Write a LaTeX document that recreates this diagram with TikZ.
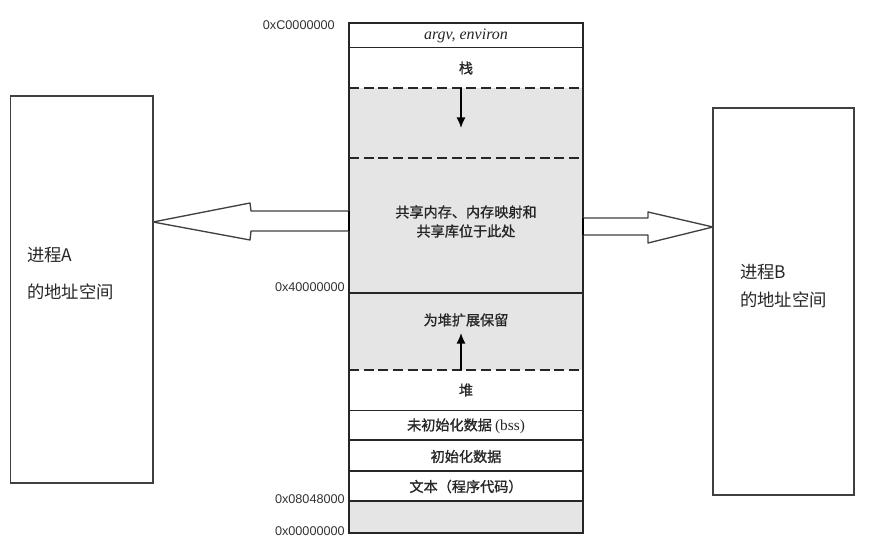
\documentclass[tikz,border=0pt]{standalone}
\usepackage{fontspec}
\usetikzlibrary{arrows.meta}
\setmainfont{Liberation Serif}
\newfontfamily\cjk{Noto Sans CJK SC}
\newfontfamily\cjkb[FakeBold=1.2]{Noto Sans CJK SC}
\newfontfamily\addrfont{Liberation Sans}
\begin{document}
\begin{tikzpicture}[x=0.75pt,y=-0.75pt,
  segline/.style={line width=1.1pt,draw=black!85},
  dashln/.style={line width=1.3pt,draw=black!85,dash pattern=on 7.5pt off 3.5pt},
  boxframe/.style={line width=1.1pt,draw=black!75},
  addr/.style={font=\addrfont\fontsize{9.5}{11}\selectfont,anchor=east,inner sep=0pt,text=black!80},
  segtxt/.style={font=\cjkb\fontsize{10.6}{14.3}\selectfont,align=center,inner sep=0pt,text=black!85},
  boxtxt/.style={font=\cjk\fontsize{13}{15}\selectfont,anchor=west,inner sep=0pt,text=black!85},
  hollowarrow/.style={line width=1pt,draw=black!75,fill=white,line join=round},
  growarrow/.style={line width=1.2pt,-{Latex[length=8pt,width=7pt]}}
]
\useasboundingbox (0,0) rectangle (875,541);
% gray regions
\fill[black!10] (349,87.7) rectangle (583,370);
\fill[black!10] (349,501) rectangle (583,533);
% column outline
\draw[segline] (349,23) rectangle (583,533);
\draw[segline] (349,47.5) -- (583,47.5);
\draw[dashln] (349,87.7) -- (583,87.7);
\draw[dashln] (349,158.3) -- (583,158.3);
\draw[segline] (349,293) -- (583,293);
\draw[dashln] (349,370) -- (583,370);
\draw[segline] (349,410.5) -- (583,410.5);
\draw[segline] (349,440) -- (583,440);
\draw[segline] (349,471) -- (583,471);
\draw[segline] (349,501) -- (583,501);
% growth arrows
\coordinate (stkTop) at (461,87.7);
\coordinate (stkTip) at (461,128);
\coordinate (heapBot) at (461,370);
\coordinate (heapTip) at (461,333);
\draw[growarrow] (stkTop) -- (stkTip);
\draw[growarrow] (heapBot) -- (heapTip);
% segment texts
\node[segtxt,font=\itshape\fontsize{12}{14}\selectfont] (argv) at (466,35.5) {argv, environ};
\node[segtxt] (stack) at (466,68) {栈};
\node[segtxt] (shared) at (466,221.5) {共享内存、内存映射和\\共享库位于此处};
\node[segtxt] (reserve) at (466,320) {为堆扩展保留};
\node[segtxt] (heap) at (466,390) {堆};
\node[segtxt] (bss) at (466,426) {未初始化数据 {\fontsize{11.5}{12}\selectfont\rmfamily(bss)}};
\node[segtxt] (data) at (466,456.5) {初始化数据};
\node[segtxt] (text) at (466,486.5) {文本（程序代码）};
% addresses
\node[addr] (aC) at (335,25) {0xC0000000};
\node[addr] (a4) at (345,287) {0x40000000};
\node[addr] (a08) at (345,499) {0x08048000};
\node[addr] (a0) at (345,531) {0x00000000};
% process boxes
\draw[boxframe] (10.5,96) rectangle (153,483);
\draw[boxframe] (713,108) rectangle (854,495);
\node[boxtxt] (pA1) at (27,255) {进程A};
\node[boxtxt] (pA2) at (27,292) {的地址空间};
\node[boxtxt] (pB1) at (740,272) {进程B};
\node[boxtxt] (pB2) at (740,300) {的地址空间};
% hollow arrows
\coordinate (tipA) at (153,222);
\coordinate (tipB) at (713,227);
\draw[hollowarrow] (349,211) -- (251,211) -- (250,203) -- (tipA) -- (250,240) -- (251,231) -- (349,231);
\draw[hollowarrow] (583,218) -- (648,218) -- (648,212) -- (tipB) -- (648,243) -- (648,235) -- (583,235);
\draw[line width=2pt] (349,211) -- (349,231);
\draw[line width=2pt] (583,218) -- (583,235);
\end{tikzpicture}
\end{document}
